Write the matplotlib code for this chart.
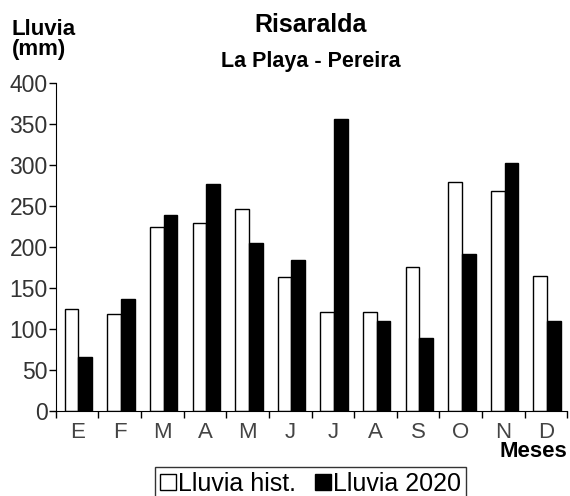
import numpy as np
import matplotlib
matplotlib.use("Agg")
import matplotlib.pyplot as plt
from matplotlib.lines import Line2D

plt.rcParams['font.family'] = ['Liberation Sans', 'DejaVu Sans']

meses = ['E', 'F', 'M', 'A', 'M', 'J', 'J', 'A', 'S', 'O', 'N', 'D']
lluvia_hist = [124, 118, 225, 229, 247, 163, 121, 121, 175, 279, 269, 165]
lluvia_2020 = [65, 137, 239, 277, 205, 184, 357, 110, 89, 191, 303, 110]
yticks = [0, 50, 100, 150, 200, 250, 300, 350, 400]

fig = plt.figure(figsize=(5.7, 4.96), dpi=100)
ax = fig.add_axes([0.098, 0.172, 0.897, 0.66])

x = np.arange(len(meses))
w = 0.32
ax.bar(x + 0.53 - w / 2, lluvia_hist, width=w, color='white', edgecolor='black', linewidth=1)
ax.bar(x + 0.53 + w / 2, lluvia_2020, width=w, color='black', edgecolor='black', linewidth=1)

ax.set_xlim(0, 12)
ax.set_ylim(0, 400)
ax.spines['top'].set_visible(False)
ax.spines['right'].set_visible(False)

# tick marks at month boundaries, labels centred in between
ax.set_xticks(np.arange(0, 13))
ax.set_xticklabels([])
ax.set_xticks(x + 0.5, minor=True)
ax.set_xticklabels(meses, minor=True, fontsize=16, color='#444444')
ax.tick_params(axis='x', which='major', direction='out', length=5, width=1)
ax.tick_params(axis='x', which='minor', length=0, pad=8)

ax.set_yticks(yticks)
ax.set_yticklabels([str(v) for v in yticks], fontsize=16.5, color='#333333')
ax.tick_params(axis='y', direction='out', length=5, width=1, pad=1)

fig.text(0.545, 0.95, 'Risaralda', ha='center', va='center', fontsize=18, fontweight='bold')
fig.text(0.545, 0.875, 'La Playa - Pereira', ha='center', va='center', fontsize=15.5, fontweight='bold')
fig.text(0.02, 0.92, 'Lluvia\n(mm)', ha='left', va='center', fontsize=16, fontweight='bold', linespacing=0.95)
fig.text(0.995, 0.089, 'Meses', ha='right', va='center', fontsize=16, fontweight='bold')

handles = [
    Line2D([], [], marker='s', linestyle='none', markersize=11, markerfacecolor='white', markeredgecolor='black', markeredgewidth=1),
    Line2D([], [], marker='s', linestyle='none', markersize=11, markerfacecolor='black', markeredgecolor='black'),
]
leg = fig.legend(handles, ['Lluvia hist.', 'Lluvia 2020'], loc='upper center',
                 bbox_to_anchor=(0.545, 0.059), ncol=2, fontsize=18, frameon=True,
                 fancybox=False, edgecolor='black', handlelength=0.6, handletextpad=0.1,
                 columnspacing=0.8, borderpad=0.2, borderaxespad=0)
leg.get_frame().set_linewidth(1)

fig.savefig('out.png', dpi=100)
